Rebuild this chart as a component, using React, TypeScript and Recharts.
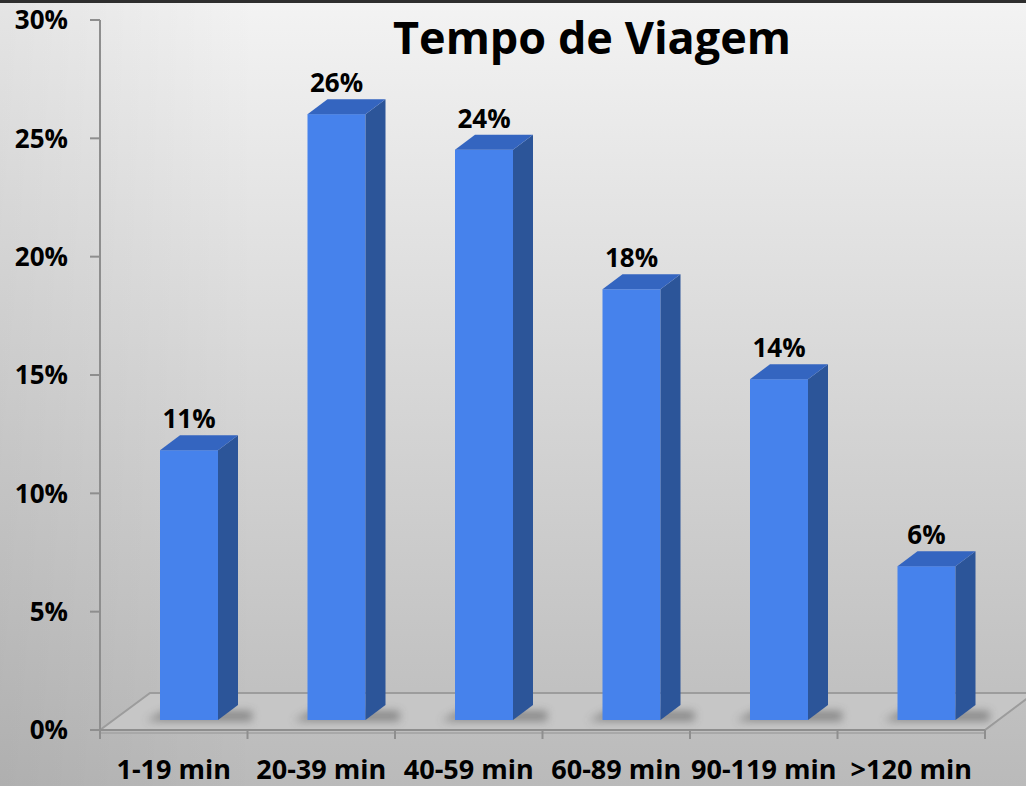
import React from 'react';
import { BarChart, Bar, XAxis, YAxis, LabelList } from 'recharts';

// faixas de tempo e participação (%)
const categories = ['1-19 min', '20-39 min', '40-59 min', '60-89 min', '90-119 min', '>120 min'];
const shares = [11.4, 25.6, 24.1, 18.2, 14.4, 6.5];
const shareLabels = ['11%', '26%', '24%', '18%', '14%', '6%'];
const yTicks = [0, 5, 10, 15, 20, 25, 30];

const data = categories.map((faixa, i) => ({ faixa, share: shares[i], label: shareLabels[i] }));

const W = 1026;
const H = 786;
const FONT = '"Open Sans", "DejaVu Sans", sans-serif';
const PLOT_X = 100;
const PLOT_R = 985;
const BASE_Y = 730;
const BACK_Y = 693;
const BAND = (PLOT_R - PLOT_X) / categories.length;
// 3D look
const DX = 20;
const DY = 15;
const SHIFT_X = 15;
const LIFT = 10;
const AXIS_COLOR = '#8e8e8e';

const Bar3D = (props: any) => {
  const { x, y, width, height } = props;
  if (!height || height <= 0) return null;
  const fx = x + SHIFT_X;
  const top = y - LIFT;
  const bottom = y + height - LIFT;
  const r = fx + width;
  return (
    <g>
      <polygon
        points={`${fx - 14},${bottom + 1} ${r + 34},${bottom + 1} ${r + DX + 14},${bottom - 9} ${fx + 4},${bottom - 9}`}
        fill="#4a4a4a"
        opacity={0.5}
        filter="url(#shadowBlur)"
      />
      <rect x={fx} y={top} width={width} height={bottom - top} fill="#4682ec" />
      <polygon
        points={`${r},${top} ${r + DX},${top - DY} ${r + DX},${bottom - DY} ${r},${bottom}`}
        fill="#2c5599"
      />
      <polygon
        points={`${fx},${top} ${fx + DX},${top - DY} ${r + DX},${top - DY} ${r},${top}`}
        fill="#3465c0"
      />
    </g>
  );
};

const renderLabel = (props: any) => {
  const { x, y, width, value } = props;
  return (
    <text
      x={x + SHIFT_X + width / 2}
      y={y - LIFT - DY - 7}
      textAnchor="middle"
      fontSize={26}
      fontWeight={700}
      fontFamily={FONT}
      fill="#000"
    >
      {value}
    </text>
  );
};

const XTick = (props: any) => {
  const { x, payload, index } = props;
  const last = index === categories.length - 1;
  return (
    <g>
      <line x1={x - BAND / 2} y1={BASE_Y} x2={x - BAND / 2} y2={BASE_Y + 9} stroke={AXIS_COLOR} strokeWidth={2} />
      {last && (
        <line x1={x + BAND / 2} y1={BASE_Y} x2={x + BAND / 2} y2={BASE_Y + 9} stroke={AXIS_COLOR} strokeWidth={2} />
      )}
      <text x={x} y={BASE_Y + 49} textAnchor="middle" fontSize={27} fontWeight={700} fontFamily={FONT} fill="#000">
        {payload.value}
      </text>
    </g>
  );
};

const Background = () => (
  <svg width={W} height={H} style={{ position: 'absolute', left: 0, top: 0 }}>
    <defs>
      <linearGradient id="bgGrad" x1="0" y1="0" x2="0" y2="1">
        <stop offset="0%" stopColor="#f3f3f3" />
        <stop offset="45%" stopColor="#d9d9d9" />
        <stop offset="100%" stopColor="#bababa" />
      </linearGradient>
      <linearGradient id="sideGrad" x1="0" y1="0" x2="1" y2="0">
        <stop offset="0%" stopColor="#000" stopOpacity={0.06} />
        <stop offset="25%" stopColor="#000" stopOpacity={0} />
        <stop offset="100%" stopColor="#000" stopOpacity={0} />
      </linearGradient>
      <filter id="shadowBlur" x="-50%" y="-100%" width="200%" height="300%">
        <feGaussianBlur stdDeviation="4" />
      </filter>
    </defs>
    <rect x={0} y={0} width={W} height={H} fill="url(#bgGrad)" />
    <rect x={0} y={0} width={W} height={H} fill="url(#sideGrad)" />
    {/* piso 3D */}
    <polygon
      points={`${PLOT_X},${BASE_Y} ${PLOT_X + 50},${BACK_Y} ${W + 10},${BACK_Y} ${PLOT_R + 48},${BASE_Y - 36} ${PLOT_R},${BASE_Y}`}
      fill="#c6c6c6"
      stroke="#9c9c9c"
      strokeWidth={2}
    />
    <line x1={PLOT_X} y1={BASE_Y + 3} x2={PLOT_R} y2={BASE_Y + 3} stroke="#a8a8a8" strokeWidth={2} />
    <rect x={0} y={0} width={W} height={3} fill="#2e2e2e" />
    <text x={592} y={54} textAnchor="middle" fontSize={45} fontWeight={700} fontFamily={FONT} fill="#000">
      Tempo de Viagem
    </text>
  </svg>
);

const App: React.FC = () => {
  return (
    <div style={{ position: 'absolute', left: 0, top: 0, width: W, height: H, overflow: 'hidden' }}>
      <Background />
      <div style={{ position: 'absolute', left: 0, top: 0 }}>
        <BarChart
          width={W}
          height={H}
          data={data}
          margin={{ top: 20, right: W - PLOT_R, bottom: 0, left: 0 }}
          barCategoryGap={0}
        >
          <XAxis
            dataKey="faixa"
            interval={0}
            tickLine={false}
            tickSize={0}
            tickMargin={0}
            height={H - BASE_Y}
            axisLine={{ stroke: AXIS_COLOR, strokeWidth: 2 }}
            tick={<XTick />}
          />
          <YAxis
            width={PLOT_X}
            domain={[0, 30]}
            ticks={yTicks}
            interval={0}
            tickFormatter={(v: number) => `${v}%`}
            tickSize={10}
            tickMargin={22}
            axisLine={{ stroke: AXIS_COLOR, strokeWidth: 2 }}
            tickLine={{ stroke: AXIS_COLOR, strokeWidth: 2 }}
            tick={{ fill: '#000', fontSize: 26, fontWeight: 700, fontFamily: FONT }}
          />
          <Bar dataKey="share" barSize={58} shape={<Bar3D />} isAnimationActive={false}>
            <LabelList dataKey="label" content={renderLabel} />
          </Bar>
        </BarChart>
      </div>
    </div>
  );
};

export default App;
